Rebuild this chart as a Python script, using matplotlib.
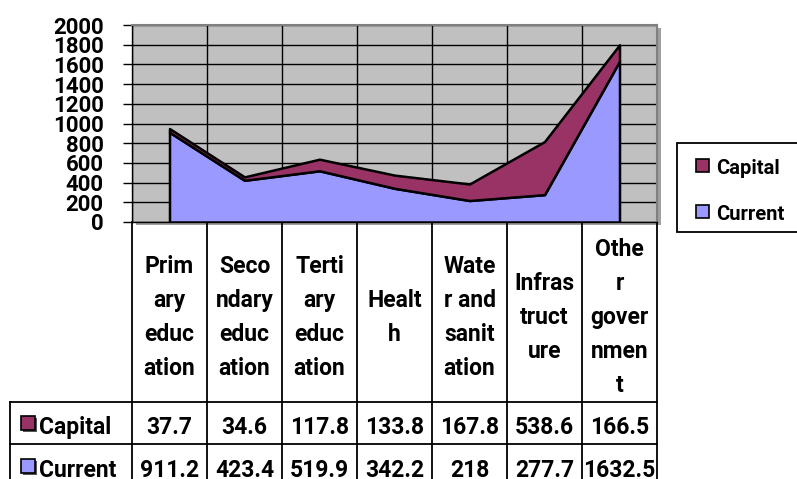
import numpy as np
import matplotlib
matplotlib.use("Agg")
import matplotlib.pyplot as plt
from matplotlib.transforms import blended_transform_factory
from matplotlib.patches import Rectangle
from matplotlib.lines import Line2D

# ---- data ----
categories = ["Primary education", "Secondary education", "Tertiary education",
              "Health", "Water and sanitation", "Infrastructure", "Other government"]
header_labels = ["Prim\nary\neduc\nation", "Seco\nndary\neduc\nation", "Terti\nary\neduc\nation",
                 "Healt\nh", "Wate\nr and\nsanit\nation", "Infras\ntruct\nure", "Othe\nr\ngover\nnmen\nt"]
capital = [37.7, 34.6, 117.8, 133.8, 167.8, 538.6, 166.5]
current = [911.2, 423.4, 519.9, 342.2, 218, 277.7, 1632.5]
capital_txt = ["37.7", "34.6", "117.8", "133.8", "167.8", "538.6", "166.5"]
current_txt = ["911.2", "423.4", "519.9", "342.2", "218", "277.7", "1632.5"]
series_names = ["Capital", "Current"]
yticks = list(range(0, 2001, 200))

C_CAP = "#993366"
C_CUR = "#9999FF"
FONT = "Roboto"
FS_TICK = 16
FS = 16.5
FS_LEG = 14.5

plt.rcParams["font.family"] = [FONT, "DejaVu Sans"]
plt.rcParams["font.weight"] = "bold"

W, H = 797, 479
fig = plt.figure(figsize=(W / 100, H / 100), dpi=100)

# overlay in pixel coordinates (y from top)
ov = fig.add_axes([0, 0, 1, 1])
ov.set_xlim(0, W)
ov.set_ylim(H, 0)
ov.axis("off")

# plot area
L, R, T, B = 132, 657, 25, 222
ax = fig.add_axes([L / W, (H - B) / H, (R - L) / W, (B - T) / H])
ax.set_facecolor("#C0C0C0")

# shadow of plot area
ov.add_patch(Rectangle((L + 4, T + 3), R - L, B - T, facecolor="#A0A0A0", edgecolor="none", zorder=0))

x = np.arange(len(categories))
cur = np.array(current)
cap = np.array(capital)
ax.fill_between(x, 0, cur, facecolor=C_CUR, edgecolor="black", lw=1.8, zorder=3)
ax.fill_between(x, cur, cur + cap, facecolor=C_CAP, edgecolor="black", lw=1.8, zorder=3)

ax.set_xlim(-0.5, len(categories) - 0.5)
ax.set_ylim(0, 2000)
ax.set_yticks(yticks)
ax.set_yticklabels([str(v) for v in yticks], fontsize=FS_TICK, fontweight="bold")
ax.set_xticks(np.arange(-0.5, len(categories), 1.0))
ax.set_xticklabels([])
ax.tick_params(axis="x", length=0)
ax.tick_params(axis="y", direction="out", length=6.5, width=1, pad=14, color="black")
for lab in ax.get_yticklabels():
    lab.set_y(lab.get_position()[1])
ax.grid(True, color="black", lw=1, zorder=1)
ax.set_axisbelow(True)
for s in ["left", "bottom"]:
    ax.spines[s].set_color("black")
    ax.spines[s].set_linewidth(1)
for s in ["top", "right"]:
    ax.spines[s].set_color("#808080")
    ax.spines[s].set_linewidth(1.5)

# ---- data table ----
tr = blended_transform_factory(ax.transData, ov.transData)
bounds = np.arange(-0.5, len(categories), 1.0)
for b in bounds:
    ov.add_line(Line2D([b, b], [B, H + 5], color="black", lw=1.3, transform=tr))
ROW1, ROW2, ROW3 = 402, 444, 486
for yy in [ROW1, ROW2, ROW3]:
    ov.add_line(Line2D([10, R], [yy, yy], color="black", lw=1.3))
ov.add_line(Line2D([10, 10], [ROW1, H + 5], color="black", lw=1.3))

hc, lsp = 315, 34
for i, lab in enumerate(header_labels):
    lines = lab.split("\n")
    n = len(lines)
    for j, ln in enumerate(lines):
        ov.text(i, hc + (j - (n - 1) / 2) * lsp, ln, transform=tr, ha="center",
                va="center_baseline", fontsize=FS, fontweight="bold")

for i in range(len(categories)):
    ov.text(i, 425, capital_txt[i], transform=tr, ha="center", va="center_baseline",
            fontsize=FS, fontweight="bold")
    ov.text(i, 468, current_txt[i], transform=tr, ha="center", va="center_baseline",
            fontsize=FS, fontweight="bold")

for yy, name, col in [(425, series_names[0], C_CAP), (468, series_names[1], C_CUR)]:
    ov.add_patch(Rectangle((23, yy - 7), 14, 14, facecolor="#555555", edgecolor="none"))
    ov.add_patch(Rectangle((21, yy - 9), 14, 14, facecolor=col, edgecolor="black", lw=1.2))
    ov.text(39, yy, name, ha="left", va="center_baseline", fontsize=FS, fontweight="bold")

# ---- legend ----
ov.add_patch(Rectangle((677, 143), 140, 89, facecolor="white", edgecolor="black", lw=1.3))
for yy, name, col in [(166, series_names[0], C_CAP), (212, series_names[1], C_CUR)]:
    ov.add_patch(Rectangle((696, yy - 7), 13, 13, facecolor=col, edgecolor="black", lw=1.2))
    ov.text(716, yy, name, ha="left", va="center_baseline", fontsize=FS_LEG, fontweight="bold")

fig.savefig("out.png", dpi=100)
